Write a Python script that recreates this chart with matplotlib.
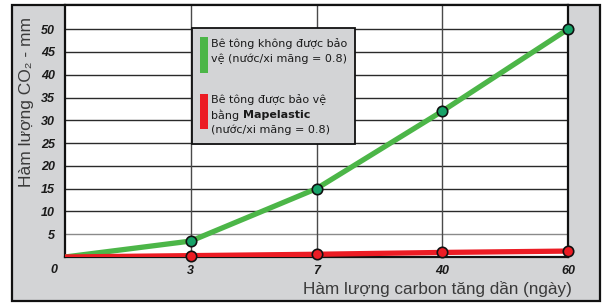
import matplotlib
matplotlib.use("Agg")
import matplotlib.pyplot as plt
from matplotlib.patches import Rectangle

# ---- data ----
categories = ["0", "3", "7", "40", "60"]
unprotected = [0, 3.5, 15, 32, 50]
protected = [0, 0.3, 0.6, 1.0, 1.3]
y_ticks = [5, 10, 15, 20, 25, 30, 35, 40, 45, 50]
legend_green = "Bê tông không được bảo\nvệ (nước/xi măng = 0.8)"
legend_red_1 = "Bê tông được bảo vệ"
legend_red_2a = "bằng "
legend_red_2b = "Mapelastic"
legend_red_3 = "(nước/xi măng = 0.8)"
x_label = "Hàm lượng carbon tăng dần (ngày)"
y_label = "Hàm lượng CO₂ - mm"

W, H = 609, 305
fig = plt.figure(figsize=(W / 100, H / 100), dpi=100)
fig.patch.set_facecolor("white")

def fx(px):
    return px / W

def fy(py):
    return 1 - py / H

# outer grey frame
fig.patches.append(Rectangle((fx(12), fy(301)), fx(600) - fx(12), fy(5) - fy(301),
                             transform=fig.transFigure, facecolor="#d3d4d6",
                             edgecolor="#111111", linewidth=1.6, zorder=-5))

ax = fig.add_axes([fx(65), fy(257), fx(568) - fx(65), fy(5) - fy(257)])
ax.set_zorder(1)
ax.set_facecolor("white")
xs = list(range(len(categories)))
ax.set_xlim(0, len(categories) - 1)
ax.set_ylim(0, 55.3)

# grid
for v in y_ticks:
    ax.axhline(v, color="#8a8a8a" if v == 5 else "#2a2a2a", linewidth=1.0, zorder=1)
for xv in xs[1:-1]:
    ax.axvline(xv, color="#4a4a4a", linewidth=1.0, zorder=1)

for s in ax.spines.values():
    s.set_color("#111111")
    s.set_linewidth(1.6)

ax.plot(xs, unprotected, color="#4cb648", linewidth=3.8, solid_capstyle="butt", zorder=3)
ax.plot(xs[1:], unprotected[1:], linestyle="none", marker="o", markersize=7.5,
        markerfacecolor="#17a268", markeredgecolor="#111111", markeredgewidth=1.2, zorder=5,
        clip_on=False)
ax.plot(xs, protected, color="#ec1c24", linewidth=3.8, solid_capstyle="butt", zorder=4)
ax.plot(xs[1:], protected[1:], linestyle="none", marker="o", markersize=7.5,
        markerfacecolor="#ec1c24", markeredgecolor="#111111", markeredgewidth=1.2, zorder=6,
        clip_on=False)

tick_font = dict(family=["Liberation Sans", "DejaVu Sans"], style="italic",
                 fontsize=9, color="#1a1a1a", fontweight="semibold")
ax.set_yticks(y_ticks)
ax.set_yticklabels([str(v) for v in y_ticks], **tick_font)
ax.set_xticks(xs)
ax.set_xticklabels([""] + categories[1:], **tick_font)
ax.tick_params(axis="both", length=0)
ax.tick_params(axis="y", pad=7)
ax.tick_params(axis="x", pad=6)
fig.text(fx(54), fy(270), categories[0], ha="center", va="center", **tick_font)

narrow = ["Liberation Sans Narrow", "Liberation Sans", "DejaVu Sans"]
fig.text(fx(572), fy(289), x_label, ha="right", va="center", family=narrow,
         fontsize=12.3, color="#3a3a3a")
fig.text(fx(26), fy(102), y_label, ha="center", va="center", rotation=90,
         family=narrow, fontsize=12.5, color="#3a3a3a")

# legend box
fig.patches.append(Rectangle((fx(192), fy(144)), fx(355) - fx(192), fy(28) - fy(144),
                             transform=fig.transFigure, facecolor="#d3d4d6",
                             edgecolor="#111111", linewidth=1.3, zorder=10))
fig.patches.append(Rectangle((fx(200), fy(73)), fx(208) - fx(200), fy(37) - fy(73),
                             transform=fig.transFigure, facecolor="#4cb648",
                             edgecolor="none", zorder=11))
fig.patches.append(Rectangle((fx(200), fy(129)), fx(208) - fx(200), fy(94) - fy(129),
                             transform=fig.transFigure, facecolor="#ec1c24",
                             edgecolor="none", zorder=11))
lg_font = dict(family=["DejaVu Sans"], fontsize=8, color="#1a1a1a", zorder=12)
fig.text(fx(211), fy(44), legend_green.split("\n")[0], ha="left", va="center", **lg_font)
fig.text(fx(211), fy(59), legend_green.split("\n")[1], ha="left", va="center", **lg_font)
fig.text(fx(211), fy(100), legend_red_1, ha="left", va="center", **lg_font)
t = fig.text(fx(211), fy(115), legend_red_2a, ha="left", va="center", **lg_font)
fig.canvas.draw()
bb = t.get_window_extent()
fig.text(bb.x1 / W, fy(115), legend_red_2b, ha="left", va="center",
         fontweight="bold", **lg_font)
fig.text(fx(211), fy(130), legend_red_3, ha="left", va="center", **lg_font)

fig.savefig("out.png", dpi=100)
